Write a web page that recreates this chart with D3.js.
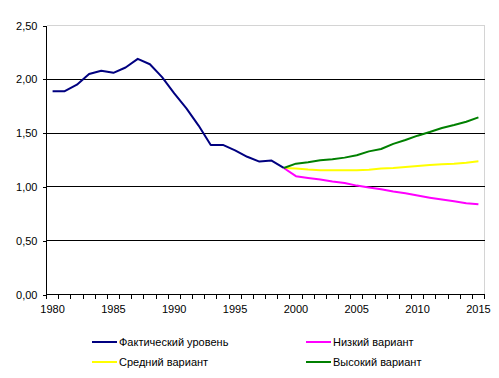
<!DOCTYPE html>
<html>
<head>
<meta charset="utf-8">
<script src="https://cdn.jsdelivr.net/npm/d3@7"></script>
<style>
  body { margin: 0; background: #fff; }
  text { font-family: "Liberation Sans", Arial, sans-serif; font-size: 11px; fill: #000; }
</style>
</head>
<body>
<div id="chart"></div>
<script>
// Data
const years = d3.range(1980, 2016)
const actualYears = d3.range(1980, 2000)
const actual = [1.89, 1.89, 1.95, 2.05, 2.08, 2.06, 2.11, 2.19, 2.14, 2.02,
                1.87, 1.73, 1.57, 1.39, 1.39, 1.34, 1.28, 1.235, 1.245, 1.176]
const projYears = d3.range(1999, 2016)
const low    = [1.176, 1.10, 1.083, 1.068, 1.05, 1.037, 1.012, 0.994, 0.978, 0.957, 0.941, 0.92, 0.90, 0.882, 0.866, 0.848, 0.839]
const medium = [1.176, 1.17, 1.161, 1.155, 1.155, 1.155, 1.155, 1.16, 1.17, 1.176, 1.185, 1.194, 1.204, 1.21, 1.216, 1.225, 1.238]
const high   = [1.176, 1.216, 1.229, 1.247, 1.256, 1.272, 1.294, 1.33, 1.352, 1.40, 1.436, 1.476, 1.51, 1.547, 1.575, 1.606, 1.646]
const yTicks = [0, 0.5, 1, 1.5, 2, 2.5]
const xLabels = [1980, 1985, 1990, 1995, 2000, 2005, 2010, 2015]
const seriesNames = ["Фактический уровень", "Низкий вариант", "Средний вариант", "Высокий вариант"]
const seriesColours = ["#000080", "#ff00ff", "#ffff00", "#008000"]

const WIDTH = 499
const HEIGHT = 378
const PLOT = {LEFT: 46.5, RIGHT: 484.5, TOP: 25.5, BOTTOM: 294.5}

let svg = d3.select("#chart").append("svg")
    .attr("width", WIDTH)
    .attr("height", HEIGHT)

let x = d3.scaleBand()
    .domain(years)
    .range([PLOT.LEFT, PLOT.RIGHT])
let xc = d => x(d) + x.bandwidth() / 2

let y = d3.scaleLinear()
    .domain([0, 2.5])
    .range([PLOT.BOTTOM, PLOT.TOP])

let fmt = d => d3.format(".2f")(d).replace(".", ",")

// plot area border (top and right, grey)
svg.append("path")
    .attr("d", `M${PLOT.LEFT},${PLOT.TOP}H${PLOT.RIGHT}V${PLOT.BOTTOM}`)
    .attr("fill", "none")
    .attr("stroke", "#d4d4d4")
    .attr("shape-rendering", "crispEdges")

// gridlines
svg.append("g")
    .selectAll("line")
    .data(yTicks.filter(d => d > 0 && d < 2.5))
    .enter()
    .append("line")
    .attr("x1", PLOT.LEFT)
    .attr("x2", PLOT.RIGHT)
    .attr("y1", d => y(d))
    .attr("y2", d => y(d))
    .attr("stroke", "#000")
    .attr("shape-rendering", "crispEdges")

// y axis
let yAxis = svg.append("g")
    .attr("transform", `translate(${PLOT.LEFT},0)`)
    .call(d3.axisLeft(y).tickValues(yTicks).tickFormat(fmt).tickSize(4).tickPadding(5))
yAxis.selectAll("path, line").attr("stroke", "#000").attr("shape-rendering", "crispEdges")
yAxis.select(".domain").attr("d", `M0,${PLOT.TOP}V${PLOT.BOTTOM}`)
yAxis.attr("font-family", null).attr("font-size", null)

// x axis: ticks at category boundaries
let xg = svg.append("g")
xg.append("line")
    .attr("x1", PLOT.LEFT).attr("x2", PLOT.RIGHT)
    .attr("y1", PLOT.BOTTOM).attr("y2", PLOT.BOTTOM)
    .attr("stroke", "#000")
    .attr("shape-rendering", "crispEdges")
xg.selectAll(".tick")
    .data(years.concat([2016]))
    .enter()
    .append("line")
    .attr("x1", d => d === 2016 ? PLOT.RIGHT : x(d))
    .attr("x2", d => d === 2016 ? PLOT.RIGHT : x(d))
    .attr("y1", PLOT.BOTTOM)
    .attr("y2", PLOT.BOTTOM + 4)
    .attr("stroke", "#000")
    .attr("shape-rendering", "crispEdges")
xg.selectAll("text")
    .data(xLabels)
    .enter()
    .append("text")
    .attr("x", d => xc(d))
    .attr("y", PLOT.BOTTOM + 18.5)
    .attr("text-anchor", "middle")
    .text(d => d)

// lines
let line = d3.line()
    .x(d => xc(d[0]))
    .y(d => y(d[1]))

let seriesData = [
    d3.zip(actualYears, actual),
    d3.zip(projYears, low),
    d3.zip(projYears, medium),
    d3.zip(projYears, high)
]
// draw order: medium, low, high, actual
;[2, 1, 3, 0].forEach(i => {
    svg.append("path")
        .datum(seriesData[i])
        .attr("d", line)
        .attr("fill", "none")
        .attr("stroke", seriesColours[i])
        .attr("stroke-width", 2)
        .attr("stroke-linejoin", "round")
})

// legend
const LEGEND = [
    {x: 92, y: 342},
    {x: 306, y: 342},
    {x: 92, y: 362},
    {x: 306, y: 362}
]
let lg = svg.append("g")
    .selectAll("g")
    .data(seriesNames)
    .enter()
    .append("g")
    .attr("transform", (d, i) => `translate(${LEGEND[i].x},${LEGEND[i].y})`)
lg.append("line")
    .attr("x1", 0).attr("x2", 25)
    .attr("stroke", (d, i) => seriesColours[i])
    .attr("stroke-width", 2)
    .attr("shape-rendering", "crispEdges")
lg.append("text")
    .attr("x", 27)
    .attr("y", 4)
    .text(d => d)
</script>
</body>
</html>
